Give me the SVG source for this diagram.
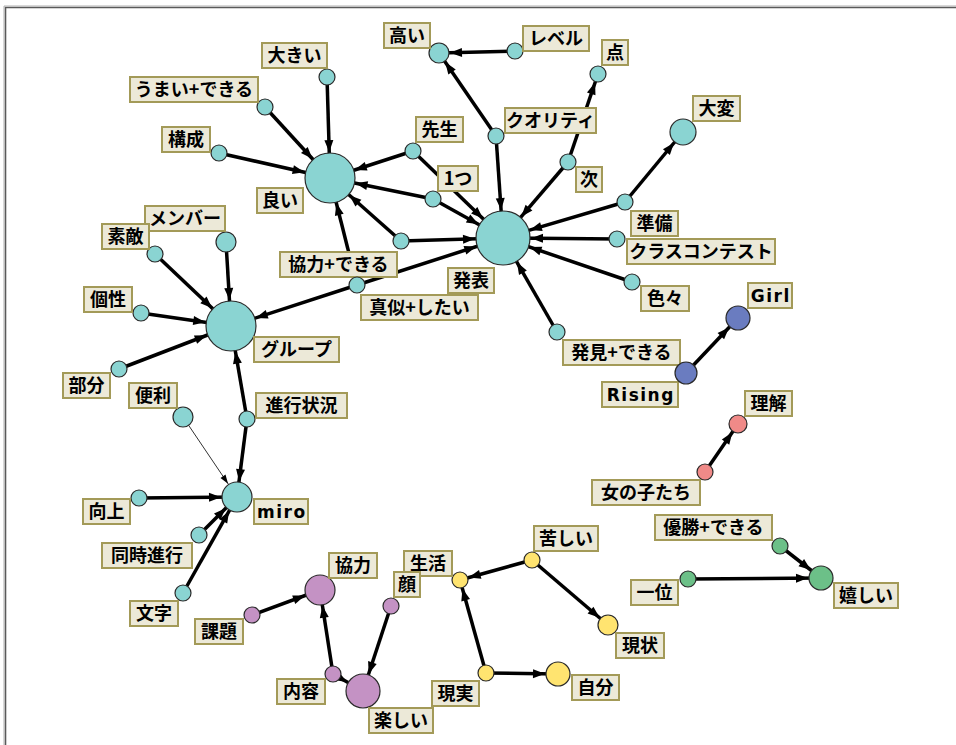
<svg xmlns="http://www.w3.org/2000/svg" width="956" height="745" viewBox="0 0 956 745">
<style>
.e{stroke:#000;stroke-width:3.5;fill:none}
.t{stroke:#333;stroke-width:1;fill:none}
.ah{fill:#000}
.lb{fill:#ece9d8;stroke:#a39a58;stroke-width:2}
text{font-family:"Noto Sans CJK JP","Liberation Sans",sans-serif;font-size:18px;font-weight:bold;fill:#000;text-anchor:middle}
.lat{font-family:"DejaVu Sans","Noto Sans CJK JP",sans-serif;font-size:17px;letter-spacing:1.5px}
circle{stroke:#2a2a2a;stroke-width:1.2}
.c{fill:#8ad4d2}.p{fill:#c492c4}.y{fill:#ffe470}.b{fill:#6a7cc0}.r{fill:#f08a88}.g{fill:#6cc088}
</style>
<defs>
<marker id="m8" markerUnits="userSpaceOnUse" markerWidth="13" markerHeight="10" refX="21" refY="5" orient="auto" overflow="visible"><path class="ah" d="M0,0.5 L12,5 L0,9.5 Z"/></marker>
<marker id="m9" markerUnits="userSpaceOnUse" markerWidth="13" markerHeight="10" refX="22" refY="5" orient="auto" overflow="visible"><path class="ah" d="M0,0.5 L12,5 L0,9.5 Z"/></marker>
<marker id="m10" markerUnits="userSpaceOnUse" markerWidth="13" markerHeight="10" refX="23" refY="5" orient="auto" overflow="visible"><path class="ah" d="M0,0.5 L12,5 L0,9.5 Z"/></marker>
<marker id="m12" markerUnits="userSpaceOnUse" markerWidth="13" markerHeight="10" refX="25" refY="5" orient="auto" overflow="visible"><path class="ah" d="M0,0.5 L12,5 L0,9.5 Z"/></marker>
<marker id="m13" markerUnits="userSpaceOnUse" markerWidth="13" markerHeight="10" refX="26" refY="5" orient="auto" overflow="visible"><path class="ah" d="M0,0.5 L12,5 L0,9.5 Z"/></marker>
<marker id="m15" markerUnits="userSpaceOnUse" markerWidth="13" markerHeight="10" refX="28" refY="5" orient="auto" overflow="visible"><path class="ah" d="M0,0.5 L12,5 L0,9.5 Z"/></marker>
<marker id="m17" markerUnits="userSpaceOnUse" markerWidth="13" markerHeight="10" refX="30" refY="5" orient="auto" overflow="visible"><path class="ah" d="M0,0.5 L12,5 L0,9.5 Z"/></marker>
<marker id="m25" markerUnits="userSpaceOnUse" markerWidth="13" markerHeight="10" refX="38" refY="5" orient="auto" overflow="visible"><path class="ah" d="M0,0.5 L12,5 L0,9.5 Z"/></marker>
<marker id="m27" markerUnits="userSpaceOnUse" markerWidth="13" markerHeight="10" refX="40" refY="5" orient="auto" overflow="visible"><path class="ah" d="M0,0.5 L12,5 L0,9.5 Z"/></marker>
<marker id="mt" markerUnits="userSpaceOnUse" markerWidth="10" markerHeight="8" refX="25" refY="4" orient="auto" overflow="visible"><path class="ah" d="M0,1 L9,4 L0,7 Z"/></marker>
</defs>
<rect x="0" y="0" width="956" height="745" fill="#fff"/>
<path d="M5.5,760 V7.5 H970" fill="none" stroke="#5a5a5a" stroke-width="1.6"/>
<path d="M4,760 V6 H970" fill="none" stroke="#b0b0b0" stroke-width="1"/>
<g id="connectors">
<line class="e" x1="327" y1="77" x2="330" y2="178" marker-end="url(#m25)"/>
<line class="e" x1="265" y1="107" x2="330" y2="178" marker-end="url(#m25)"/>
<line class="e" x1="219" y1="153" x2="330" y2="178" marker-end="url(#m25)"/>
<line class="e" x1="413" y1="151" x2="330" y2="178" marker-end="url(#m25)"/>
<line class="e" x1="433" y1="199" x2="330" y2="178" marker-end="url(#m25)"/>
<line class="e" x1="401" y1="241" x2="330" y2="178" marker-end="url(#m25)"/>
<line class="e" x1="357" y1="285" x2="330" y2="178" marker-end="url(#m25)"/>
<line class="e" x1="413" y1="151" x2="503" y2="238" marker-end="url(#m27)"/>
<line class="e" x1="433" y1="199" x2="503" y2="238" marker-end="url(#m27)"/>
<line class="e" x1="401" y1="241" x2="503" y2="238" marker-end="url(#m27)"/>
<line class="e" x1="357" y1="285" x2="503" y2="238" marker-end="url(#m27)"/>
<line class="e" x1="496" y1="136" x2="503" y2="238" marker-end="url(#m27)"/>
<line class="e" x1="568" y1="162" x2="503" y2="238" marker-end="url(#m27)"/>
<line class="e" x1="625" y1="202" x2="503" y2="238" marker-end="url(#m27)"/>
<line class="e" x1="617" y1="239" x2="503" y2="238" marker-end="url(#m27)"/>
<line class="e" x1="632" y1="282" x2="503" y2="238" marker-end="url(#m27)"/>
<line class="e" x1="557" y1="332" x2="503" y2="238" marker-end="url(#m27)"/>
<line class="e" x1="515" y1="51" x2="439" y2="53" marker-end="url(#m10)"/>
<line class="e" x1="496" y1="136" x2="439" y2="53" marker-end="url(#m10)"/>
<line class="e" x1="568" y1="162" x2="598" y2="74" marker-end="url(#m8)"/>
<line class="e" x1="625" y1="202" x2="683" y2="132" marker-end="url(#m13)"/>
<line class="e" x1="226" y1="242" x2="231" y2="326" marker-end="url(#m25)"/>
<line class="e" x1="155" y1="254" x2="231" y2="326" marker-end="url(#m25)"/>
<line class="e" x1="141" y1="313" x2="231" y2="326" marker-end="url(#m25)"/>
<line class="e" x1="119" y1="369" x2="231" y2="326" marker-end="url(#m25)"/>
<line class="e" x1="357" y1="285" x2="231" y2="326" marker-end="url(#m25)"/>
<line class="e" x1="247" y1="419" x2="231" y2="326" marker-end="url(#m25)"/>
<line class="e" x1="247" y1="419" x2="237" y2="497" marker-end="url(#m15)"/>
<line class="t" x1="183" y1="417" x2="237" y2="497" marker-end="url(#mt)"/>
<line class="e" x1="139" y1="498" x2="237" y2="497" marker-end="url(#m15)"/>
<line class="e" x1="199" y1="535" x2="237" y2="497" marker-end="url(#m15)"/>
<line class="e" x1="183" y1="593" x2="237" y2="497" marker-end="url(#m15)"/>
<line class="e" x1="686" y1="373" x2="738" y2="318" marker-end="url(#m12)"/>
<line class="e" x1="705" y1="472" x2="738" y2="424" marker-end="url(#m9)"/>
<line class="e" x1="780" y1="546" x2="821" y2="578" marker-end="url(#m12)"/>
<line class="e" x1="688" y1="579" x2="821" y2="578" marker-end="url(#m12)"/>
<line class="e" x1="532" y1="560" x2="460" y2="580" marker-end="url(#m8)"/>
<line class="e" x1="532" y1="560" x2="608" y2="625" marker-end="url(#m10)"/>
<line class="e" x1="486" y1="673" x2="460" y2="580" marker-end="url(#m8)"/>
<line class="e" x1="486" y1="673" x2="558" y2="674" marker-end="url(#m12)"/>
<line class="e" x1="252" y1="615" x2="320" y2="590" marker-end="url(#m15)"/>
<line class="e" x1="333" y1="674" x2="320" y2="590" marker-end="url(#m15)"/>
<line class="e" x1="333" y1="674" x2="363" y2="691" marker-end="url(#m17)"/>
<line class="e" x1="391" y1="606" x2="363" y2="691" marker-end="url(#m17)"/>
</g>
<g id="n-yoi"><circle class="c" cx="330" cy="178" r="25"/><rect class="lb" x="257" y="188" width="46" height="25"/><text x="280" y="207.3">良い</text></g>
<g id="n-happyo"><circle class="c" cx="503" cy="238" r="27"/><rect class="lb" x="448" y="268" width="46" height="25"/><text x="471" y="287.3">発表</text></g>
<g id="n-group"><circle class="c" cx="231" cy="326" r="25"/><rect class="lb" x="254" y="337" width="85" height="25"/><text x="296.5" y="356.3">グループ</text></g>
<g id="n-miro"><circle class="c" cx="237" cy="497" r="15"/><rect class="lb" x="254" y="499" width="54" height="25"/><text class="lat" x="281.8" y="517.5">miro</text></g>
<g id="n-takai"><circle class="c" cx="439" cy="53" r="10"/><rect class="lb" x="384" y="23" width="46" height="25"/><text x="407" y="42.3">高い</text></g>
<g id="n-level"><circle class="c" cx="515" cy="51" r="8"/><rect class="lb" x="523" y="26" width="66" height="25"/><text x="556" y="45.3">レベル</text></g>
<g id="n-ten"><circle class="c" cx="598" cy="74" r="8"/><rect class="lb" x="602" y="40" width="26" height="25"/><text x="615" y="59.3">点</text></g>
<g id="n-quality"><circle class="c" cx="496" cy="136" r="8"/><rect class="lb" x="505" y="108" width="91" height="25"/><text x="550.5" y="127.3">クオリティ</text></g>
<g id="n-tsugi"><circle class="c" cx="568" cy="162" r="8"/><rect class="lb" x="576" y="167" width="26" height="25"/><text x="589" y="186.3">次</text></g>
<g id="n-taihen"><circle class="c" cx="683" cy="132" r="13"/><rect class="lb" x="693" y="96" width="47" height="25"/><text x="716.5" y="115.3">大変</text></g>
<g id="n-junbi"><circle class="c" cx="625" cy="202" r="8"/><rect class="lb" x="631" y="211" width="47" height="25"/><text x="654.5" y="230.3">準備</text></g>
<g id="n-class"><circle class="c" cx="617" cy="239" r="8"/><rect class="lb" x="627" y="239" width="148" height="25"/><text x="701" y="258.3">クラスコンテスト</text></g>
<g id="n-iroiro"><circle class="c" cx="632" cy="282" r="8"/><rect class="lb" x="641" y="286" width="48" height="25"/><text x="665" y="305.3">色々</text></g>
<g id="n-hakken"><circle class="c" cx="557" cy="332" r="8"/><rect class="lb" x="563" y="340" width="117" height="25"/><text x="621.5" y="359.3">発見+できる</text></g>
<g id="n-ookii"><circle class="c" cx="327" cy="77" r="8"/><rect class="lb" x="262" y="43" width="65" height="25"/><text x="294.5" y="62.3">大きい</text></g>
<g id="n-umai"><circle class="c" cx="265" cy="107" r="8"/><rect class="lb" x="130" y="77" width="128" height="25"/><text x="194" y="96.3">うまい+できる</text></g>
<g id="n-kousei"><circle class="c" cx="219" cy="153" r="8"/><rect class="lb" x="162" y="127" width="48" height="25"/><text x="186" y="146.3">構成</text></g>
<g id="n-sensei"><circle class="c" cx="413" cy="151" r="8"/><rect class="lb" x="416" y="117" width="47" height="25"/><text x="439.5" y="136.3">先生</text></g>
<g id="n-hitotsu"><circle class="c" cx="433" cy="199" r="8"/><rect class="lb" x="438" y="166" width="40" height="25"/><text x="458" y="185.3">1つ</text></g>
<g id="n-kyouryoku-dekiru"><circle class="c" cx="401" cy="241" r="8"/><rect class="lb" x="280" y="252" width="117" height="25"/><text x="338.5" y="271.3">協力+できる</text></g>
<g id="n-mane"><circle class="c" cx="357" cy="285" r="8"/><rect class="lb" x="361" y="295" width="117" height="25"/><text x="419.5" y="314.3">真似+したい</text></g>
<g id="n-member"><circle class="c" cx="226" cy="242" r="10"/><rect class="lb" x="145" y="206" width="80" height="25"/><text x="185" y="225.3">メンバー</text></g>
<g id="n-suteki"><circle class="c" cx="155" cy="254" r="8"/><rect class="lb" x="102" y="224" width="47" height="25"/><text x="125.5" y="243.3">素敵</text></g>
<g id="n-kosei"><circle class="c" cx="141" cy="313" r="8"/><rect class="lb" x="84" y="287" width="48" height="25"/><text x="108" y="306.3">個性</text></g>
<g id="n-bubun"><circle class="c" cx="119" cy="369" r="8"/><rect class="lb" x="63" y="373" width="47" height="25"/><text x="86.5" y="392.3">部分</text></g>
<g id="n-shinko"><circle class="c" cx="247" cy="419" r="8"/><rect class="lb" x="256" y="393" width="91" height="25"/><text x="301.5" y="412.3">進行状況</text></g>
<g id="n-benri"><circle class="c" cx="183" cy="417" r="10"/><rect class="lb" x="129" y="383" width="48" height="25"/><text x="153" y="402.3">便利</text></g>
<g id="n-kojo"><circle class="c" cx="139" cy="498" r="8"/><rect class="lb" x="83" y="499" width="47" height="25"/><text x="106.5" y="518.3">向上</text></g>
<g id="n-doji"><circle class="c" cx="199" cy="535" r="8"/><rect class="lb" x="102" y="543" width="90" height="25"/><text x="147" y="562.3">同時進行</text></g>
<g id="n-moji"><circle class="c" cx="183" cy="593" r="8"/><rect class="lb" x="130" y="601" width="48" height="25"/><text x="154" y="620.3">文字</text></g>
<g id="n-girl"><circle class="b" cx="738" cy="318" r="12"/><rect class="lb" x="748" y="283" width="44" height="25"/><text class="lat" x="770.8" y="301.5">Girl</text></g>
<g id="n-rising"><rect class="lb" x="602" y="382" width="76" height="25"/><text class="lat" x="640.8" y="400.5">Rising</text><circle class="b" cx="686" cy="373" r="11"/></g>
<g id="n-rikai"><circle class="r" cx="738" cy="424" r="9"/><rect class="lb" x="745" y="391" width="47" height="25"/><text x="768.5" y="410.3">理解</text></g>
<g id="n-onnanoko"><circle class="r" cx="705" cy="472" r="8"/><rect class="lb" x="592" y="480" width="108" height="25"/><text x="646" y="499.3">女の子たち</text></g>
<g id="n-yusho"><circle class="g" cx="780" cy="546" r="8"/><rect class="lb" x="655" y="515" width="117" height="25"/><text x="713.5" y="534.3">優勝+できる</text></g>
<g id="n-ureshii"><circle class="g" cx="821" cy="578" r="12"/><rect class="lb" x="834" y="583" width="64" height="25"/><text x="866" y="602.3">嬉しい</text></g>
<g id="n-ichii"><circle class="g" cx="688" cy="579" r="8"/><rect class="lb" x="631" y="580" width="47" height="25"/><text x="654.5" y="599.3">一位</text></g>
<g id="n-kurushii"><circle class="y" cx="532" cy="560" r="8"/><rect class="lb" x="534" y="526" width="64" height="25"/><text x="566" y="545.3">苦しい</text></g>
<g id="n-seikatsu"><circle class="y" cx="460" cy="580" r="8"/><rect class="lb" x="404" y="551" width="48" height="25"/><text x="428" y="570.3">生活</text></g>
<g id="n-genjo"><circle class="y" cx="608" cy="625" r="10"/><rect class="lb" x="616" y="633" width="48" height="25"/><text x="640" y="652.3">現状</text></g>
<g id="n-genjitsu"><circle class="y" cx="486" cy="673" r="8"/><rect class="lb" x="432" y="681" width="47" height="25"/><text x="455.5" y="700.3">現実</text></g>
<g id="n-jibun"><circle class="y" cx="558" cy="674" r="12"/><rect class="lb" x="572" y="675" width="47" height="25"/><text x="595.5" y="694.3">自分</text></g>
<g id="n-kyouryoku"><circle class="p" cx="320" cy="590" r="15"/><rect class="lb" x="329" y="553" width="48" height="25"/><text x="353" y="572.3">協力</text></g>
<g id="n-kadai"><circle class="p" cx="252" cy="615" r="8"/><rect class="lb" x="195" y="619" width="48" height="25"/><text x="219" y="638.3">課題</text></g>
<g id="n-kao"><circle class="p" cx="391" cy="606" r="8"/><rect class="lb" x="394" y="572" width="26" height="25"/><text x="407" y="591.3">顔</text></g>
<g id="n-naiyo"><circle class="p" cx="333" cy="674" r="8"/><rect class="lb" x="277" y="679" width="48" height="25"/><text x="301" y="698.3">内容</text></g>
<g id="n-tanoshii"><circle class="p" cx="363" cy="691" r="17"/><rect class="lb" x="369" y="708" width="64" height="25"/><text x="401" y="727.3">楽しい</text></g>
</svg>
